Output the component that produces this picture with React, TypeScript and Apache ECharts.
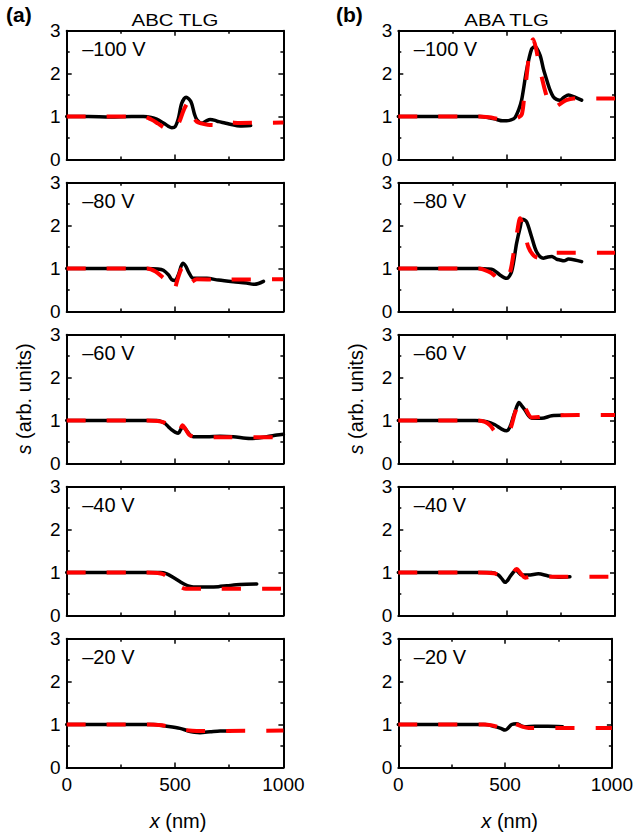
import React, { useEffect, useRef } from "react";
import * as echarts from "echarts";

type Pt = [number, number];

const voltageLabels = ["–100 V", "–80 V", "–60 V", "–40 V", "–20 V"];
const columnTitles = ["ABC TLG", "ABA TLG"];
const columnTags = ["(a)", "(b)"];
const xTickValues = [0, 500, 1000];
const yTickValues = [0, 1, 2, 3];

// ABC TLG (left column) — black solid
const abcBlack100: Pt[] = [[0,1.0],[100,1.0],[200,0.99],[300,1.0],[354,1.0],[390,0.98],[415,0.94],[446,0.85],[470,0.77],[485,0.74],[500,0.76],[515,0.95],[531,1.31],[551,1.45],[573,1.35],[590,1.05],[601,0.92],[624,0.84],[645,0.9],[662,0.93],[685,0.91],[701,0.88],[730,0.85],[755,0.82],[800,0.78],[849,0.79]];
const abcBlack80: Pt[] = [[0,1.0],[200,1.0],[369,1.0],[420,0.99],[446,0.96],[470,0.85],[485,0.74],[500,0.72],[515,0.85],[536,1.12],[550,1.05],[562,0.92],[585,0.77],[647,0.77],[700,0.73],[770,0.69],[830,0.66],[862,0.63],[885,0.65],[908,0.7]];
const abcBlack60: Pt[] = [[0,1.0],[200,1.0],[415,1.0],[440,0.97],[454,0.93],[470,0.85],[485,0.78],[500,0.73],[515,0.7],[525,0.78],[535,0.86],[545,0.82],[554,0.76],[570,0.66],[585,0.62],[647,0.62],[708,0.63],[769,0.62],[846,0.58],[923,0.62],[970,0.66],[1000,0.68]];
const abcBlack40: Pt[] = [[0,1.0],[200,1.0],[431,1.0],[462,0.97],[500,0.86],[525,0.78],[546,0.72],[565,0.68],[585,0.66],[662,0.66],[700,0.67],[739,0.69],[800,0.72],[877,0.73]];
const abcBlack20: Pt[] = [[0,1.0],[200,1.0],[400,1.0],[462,0.96],[523,0.91],[561,0.85],[590,0.82],[615,0.81],[662,0.83],[708,0.85],[754,0.85]];

// ABC TLG (left column) — red dashed
const abcRed100: Pt[] = [[0,1.0],[350,1.0],[390,0.93],[420,0.84],[446,0.75],[470,0.7],[500,0.7],[520,0.88],[540,1.15],[560,1.32],[572,1.2],[585,0.98],[600,0.88],[620,0.84],[650,0.81],[680,0.8],[720,0.87],[760,0.86],[800,0.85],[1000,0.86]];
const abcRed80: Pt[] = [[0,1.0],[370,1.0],[410,0.93],[446,0.78],[470,0.68],[495,0.5],[510,0.72],[528,0.98],[540,1.02],[554,0.88],[570,0.67],[600,0.75],[700,0.74],[1000,0.75]];
const abcRed60: Pt[] = [[0,1.0],[354,1.0],[420,0.99],[450,0.95],[480,0.84],[505,0.72],[520,0.75],[535,0.89],[548,0.8],[565,0.67],[590,0.62],[700,0.61],[1000,0.61]];
const abcRed40: Pt[] = [[0,1.0],[354,1.0],[420,0.99],[446,0.96],[475,0.87],[505,0.74],[530,0.65],[550,0.62],[700,0.62],[1000,0.62]];
const abcRed20: Pt[] = [[0,1.0],[380,1.0],[440,0.98],[480,0.94],[520,0.9],[550,0.87],[600,0.85],[700,0.85],[1000,0.86]];

// ABA TLG (right column) — black solid
const abaBlack100: Pt[] = [[0,1.0],[200,1.0],[377,1.0],[420,0.97],[454,0.93],[480,0.9],[500,0.9],[520,0.92],[538,0.97],[555,1.15],[569,1.38],[592,2.08],[615,2.57],[631,2.63],[654,2.43],[670,2.1],[685,1.85],[700,1.62],[715,1.46],[730,1.4],[746,1.38],[765,1.45],[785,1.5],[815,1.45],[846,1.38]];
const abaBlack80: Pt[] = [[0,1.0],[200,1.0],[377,1.0],[410,0.99],[438,0.97],[469,0.85],[500,0.77],[523,0.93],[546,1.59],[562,1.95],[574,2.15],[592,2.09],[615,1.74],[638,1.39],[669,1.24],[690,1.27],[708,1.28],[730,1.22],[746,1.2],[765,1.18],[785,1.22],[815,1.2],[846,1.16]];
const abaBlack60: Pt[] = [[0,1.0],[200,1.0],[354,1.0],[408,0.97],[446,0.9],[477,0.8],[500,0.76],[515,0.85],[531,1.09],[545,1.3],[557,1.42],[570,1.34],[585,1.24],[600,1.12],[616,1.05],[662,1.05],[708,1.11],[760,1.12]];
const abaBlack40: Pt[] = [[0,1.0],[200,1.0],[431,1.0],[462,0.94],[480,0.84],[492,0.77],[505,0.82],[515,0.9],[530,1.0],[542,1.06],[555,1.0],[569,0.94],[600,0.94],[646,0.97],[692,0.92],[738,0.89],[792,0.9]];
const abaBlack20: Pt[] = [[0,1.0],[200,1.0],[408,1.0],[454,0.95],[480,0.91],[500,0.87],[515,0.92],[531,1.0],[554,1.02],[575,0.97],[592,0.95],[638,0.96],[700,0.96],[769,0.95]];

// ABA TLG (right column) — red dashed
const abaRed100: Pt[] = [[0,1.0],[370,1.0],[420,0.98],[454,0.95],[490,0.92],[530,0.93],[555,0.98],[570,1.05],[580,1.4],[592,1.93],[607,2.55],[622,2.8],[635,2.6],[650,2.2],[665,1.85],[680,1.55],[695,1.32],[715,1.19],[740,1.27],[775,1.38],[810,1.42],[1000,1.42]];
const abaRed80: Pt[] = [[0,1.0],[370,1.0],[420,0.92],[445,0.83],[461,0.75],[490,0.72],[515,0.9],[535,1.45],[550,1.9],[562,2.17],[578,1.95],[600,1.5],[625,1.3],[650,1.25],[685,1.27],[715,1.37],[760,1.37],[1000,1.37]];
const abaRed60: Pt[] = [[0,1.0],[362,1.0],[400,0.97],[425,0.88],[446,0.74],[470,0.68],[495,0.72],[515,0.78],[540,1.2],[566,1.48],[590,1.25],[616,1.07],[650,1.08],[700,1.12],[1000,1.13]];
const abaRed40: Pt[] = [[0,1.0],[360,1.0],[440,0.98],[470,0.93],[500,0.86],[520,0.92],[546,1.08],[565,0.98],[585,0.88],[610,0.9],[650,0.9],[1000,0.9]];
const abaRed20: Pt[] = [[0,1.0],[400,1.0],[440,0.98],[454,0.96],[480,0.93],[505,0.92],[531,1.03],[555,1.0],[580,0.95],[610,0.92],[1000,0.92]];

const blackByColumn = [
  [abcBlack100, abcBlack80, abcBlack60, abcBlack40, abcBlack20],
  [abaBlack100, abaBlack80, abaBlack60, abaBlack40, abaBlack20],
];
const redByColumn = [
  [abcRed100, abcRed80, abcRed60, abcRed40, abcRed20],
  [abaRed100, abaRed80, abaRed60, abaRed40, abaRed20],
];

const FONT = "'Liberation Sans', Arial, Helvetica, sans-serif";

export default function App() {
  const ref = useRef<HTMLDivElement>(null);
  useEffect(() => {
    if (!ref.current) return;
    const chart = echarts.init(ref.current, undefined, { renderer: "svg" });

    const colLeft = [66.7, 398.3];
    const colWidth = 216.7;
    const rowTop0 = 30.7;
    const rowPitch = 152;
    const rowHeight = 128.7;

    const grids: any[] = [];
    const xAxes: any[] = [];
    const yAxes: any[] = [];
    const series: any[] = [];
    const graphics: any[] = [];

    const tickCommon = {
      axisTick: { show: true, inside: true, length: 5, lineStyle: { color: "#000", width: 1.5 } },
      minorTick: { show: true, splitNumber: 2, length: 3, lineStyle: { color: "#000", width: 1.5 } },
      splitLine: { show: false },
      minorSplitLine: { show: false },
      axisLine: { show: true, onZero: false, lineStyle: { color: "#000", width: 2 } },
    };

    for (let c = 0; c < 2; c++) {
      for (let r = 0; r < 5; r++) {
        const g = grids.length;
        const top = rowTop0 + r * rowPitch;
        grids.push({ left: colLeft[c], top, width: colWidth, height: rowHeight, containLabel: false });
        const isBottom = r === 4;
        xAxes.push({
          type: "value", gridIndex: g, position: "bottom", min: xTickValues[0], max: xTickValues[2], interval: 500,
          ...tickCommon,
          axisLabel: {
            show: isBottom, color: "#000", fontSize: 19, fontFamily: FONT, margin: 8,
            showMinLabel: true, showMaxLabel: true,
            formatter: (v: number) => String(v),
          },
        });
        xAxes.push({
          type: "value", gridIndex: g, position: "top", min: xTickValues[0], max: xTickValues[2], interval: 500,
          ...tickCommon,
          axisLabel: { show: false },
        });
        yAxes.push({
          type: "value", gridIndex: g, position: "left", min: yTickValues[0], max: yTickValues[3], interval: 1,
          ...tickCommon,
          axisLabel: { show: true, color: "#000", fontSize: 19, fontFamily: FONT, margin: 6, formatter: (v: number) => String(v) },
        });
        yAxes.push({
          type: "value", gridIndex: g, position: "right", min: yTickValues[0], max: yTickValues[3], interval: 1,
          ...tickCommon,
          axisLabel: { show: false },
        });
        series.push({
          type: "line", xAxisIndex: 2 * g, yAxisIndex: 2 * g, data: blackByColumn[c][r],
          showSymbol: false, symbol: "none", smooth: 0.3, clip: true,
          lineStyle: { color: "#000", width: 3.5, cap: "round", join: "round" },
          z: 2,
        });
        series.push({
          type: "line", xAxisIndex: 2 * g, yAxisIndex: 2 * g, data: redByColumn[c][r],
          showSymbol: false, symbol: "none", smooth: 0.3, clip: true,
          lineStyle: { color: "#ff0000", width: 4, type: [19, 21], cap: "butt", join: "round" },
          z: 3,
        });
        graphics.push({
          type: "text", left: colLeft[c] + 15.5, top: top + 8.5, z: 10,
          style: { text: voltageLabels[r], fontSize: 20, fontFamily: FONT, fill: "#000" },
        });
      }
      const cx = colLeft[c] + colWidth / 2;
      graphics.push({
        type: "text", x: cx, y: 20, z: 10, scaleX: 1.2,
        style: { text: columnTitles[c], fontSize: 17, fontFamily: FONT, fill: "#000", align: "center", verticalAlign: "middle" },
      });
      graphics.push({
        type: "text", x: c === 0 ? 6 : 336, y: 4, z: 10,
        style: { text: columnTags[c], fontSize: 21, fontWeight: "bold", fontFamily: FONT, fill: "#000" },
      });
      graphics.push({
        type: "text", x: cx + 3, y: 821, z: 10,
        style: {
          text: "{i|x} (nm)", fontSize: 20, fontFamily: FONT, fill: "#000", align: "center", verticalAlign: "middle",
          rich: { i: { fontStyle: "italic", fontSize: 20, fontFamily: FONT, fill: "#000" } },
        },
      });
      graphics.push({
        type: "text", x: c === 0 ? 24 : 356, y: 399, rotation: Math.PI / 2, z: 10,
        style: {
          text: "{i|s} (arb. units)", fontSize: 20, fontFamily: FONT, fill: "#000", align: "center", verticalAlign: "middle",
          rich: { i: { fontStyle: "italic", fontSize: 20, fontFamily: FONT, fill: "#000" } },
        },
      });
    }

    chart.setOption({
      animation: false,
      backgroundColor: "#fff",
      grid: grids,
      xAxis: xAxes,
      yAxis: yAxes,
      series,
      graphic: graphics,
    });
    return () => chart.dispose();
  }, []);
  return <div ref={ref} style={{ position: "absolute", left: 0, top: 0, width: 636, height: 838 }} />;
}
